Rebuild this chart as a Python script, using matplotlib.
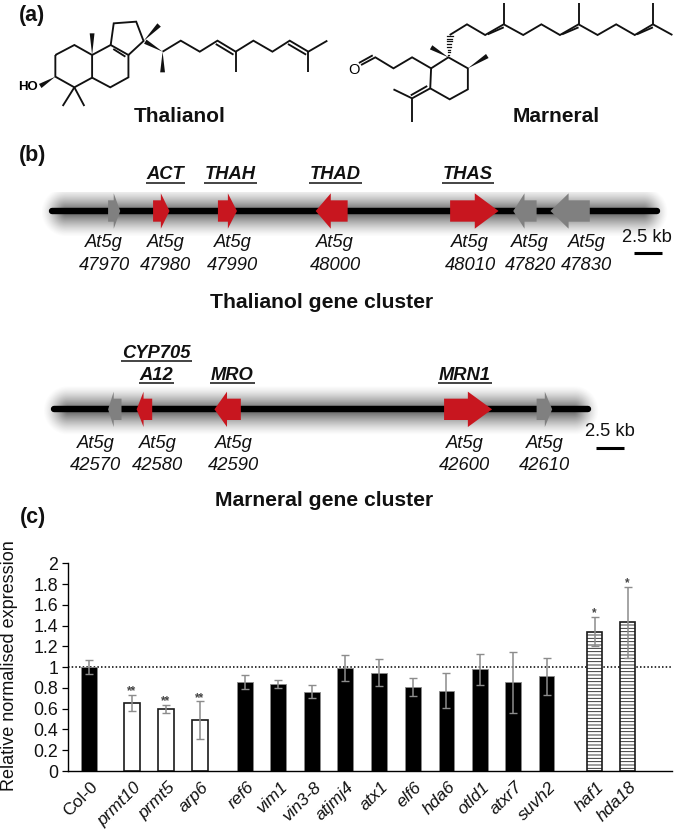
import numpy as np
import matplotlib
matplotlib.use("Agg")
import matplotlib.pyplot as plt
from matplotlib.patches import Polygon

plt.rcParams['font.family'] = ['Liberation Sans', 'DejaVu Sans']
plt.rcParams['hatch.linewidth'] = 0.6

# ---- bar chart data
genotypes = ['Col-0', 'prmt10', 'prmt5', 'arp6', 'ref6', 'vim1', 'vin3-8', 'atjmj4', 'atx1',
             'elf6', 'hda6', 'otld1', 'atxr7', 'suvh2', 'haf1', 'hda18']
slots = [0, 1.28, 2.29, 3.30, 4.64, 5.62, 6.64, 7.62, 8.63, 9.64, 10.63, 11.64, 12.62, 13.62, 15.05, 16.03]
expression = [1.0, 0.655, 0.60, 0.49, 0.855, 0.84, 0.765, 0.995, 0.945, 0.81, 0.775, 0.98, 0.855, 0.91, 1.34, 1.43]
errors = [0.07, 0.08, 0.04, 0.18, 0.065, 0.04, 0.06, 0.125, 0.13, 0.09, 0.165, 0.15, 0.295, 0.18, 0.14, 0.34]
groups = ['wt', 'down', 'down', 'down', 'ns', 'ns', 'ns', 'ns', 'ns', 'ns', 'ns', 'ns', 'ns', 'ns', 'up', 'up']
stars = ['', '**', '**', '**', '', '', '', '', '', '', '', '', '', '', '*', '*']
y_ticks = [0, 0.2, 0.4, 0.6, 0.8, 1, 1.2, 1.4, 1.6, 1.8, 2]
y_ticklabels = ['0', '0.2', '0.4', '0.6', '0.8', '1', '1.2', '1.4', '1.6', '1.8', '2']

# ---- gene cluster data: (tail, neck, tip, colour) in zoomed-picture units
RED, GREY = '#c8161f', '#808080'
thal_genes = [(250, 263, 278, GREY), (354, 372, 392, RED), (504, 527, 548, RED), (804, 765, 730, RED),
              (1041, 1098, 1153, RED), (1241, 1213, 1187, GREY), (1364, 1315, 1273, GREY)]
thal_ids = [(241, '47970'), (383, '47980'), (538, '47990'), (775, '48000'), (1087, '48010'), (1226, '47820'), (1357, '47830')]
thal_names = [(383, 'ACT'), (532, 'THAH'), (775, 'THAD'), (1082, 'THAS')]
marn_genes = [(281, 263, 250, GREY), (352, 332, 316, RED), (557, 525, 496, RED),
              (1027, 1082, 1138, RED), (1241, 1260, 1277, GREY)]
marn_ids = [(222, '42570'), (364, '42580'), (540, '42590'), (1074, '42600'), (1259, '42610')]
marn_names = [(362, 70, 92, 'CYP705'), (362, 138, 158, 'A12'), (537, 138, 158, 'MRO'), (1075, 138, 158, 'MRN1')]

# ---- molecule skeletons (zoomed-picture units)
thal_bonds = [
    [(128, 165), (172, 135), (213, 165), (213, 233), (172, 262), (128, 230), (128, 165)],
    [(213, 165), (256, 135), (297, 165), (297, 232), (255, 262), (213, 233)],
    [(256, 135), (263, 70), (315, 65), (332, 123), (297, 165)],
    [(262, 147), (290, 170)],
    [(172, 262), (145, 318)], [(172, 262), (195, 318)],
    [(376, 155), (418, 122), (462, 155), (503, 122), (545, 155), (586, 122), (630, 155), (670, 122), (713, 155), (757, 122)],
    [(545, 155), (545, 217)], [(713, 155), (713, 217)],
    [(499, 132), (540, 164)], [(666, 132), (708, 164)],
]
thal_wedges = [((213, 165), (213, 100)), ((332, 123), (368, 75)), ((376, 155), (336, 125)),
               ((376, 155), (376, 217)), ((128, 230), (93, 258))]
marn_bonds = [
    [(997, 205), (1037, 172), (1082, 205), (1082, 268), (1040, 298), (995, 265), (997, 205)],
    [(995, 265), (953, 295), (910, 268)], [(953, 295), (953, 365)],
    [(988, 258), (950, 286)],
    [(997, 205), (953, 172), (910, 205), (868, 172), (835, 195)],
    [(862, 166), (830, 189)],
    [(1040, 105), (1080, 73), (1122, 105), (1165, 73), (1210, 105), (1252, 73), (1295, 105), (1338, 73),
     (1382, 105), (1425, 73), (1468, 105), (1510, 73), (1555, 105)],
    [(1165, 73), (1165, 10)], [(1338, 73), (1338, 10)], [(1510, 73), (1510, 10)],
    [(1128, 103), (1165, 82)], [(1300, 103), (1338, 82)], [(1473, 103), (1510, 82)],
]
marn_wedges = [((1082, 205), (1127, 168)), ((1037, 172), (997, 142))]
marn_hash = ((1037, 172), (1040, 108))

fig = plt.figure(figsize=(6.78, 8.31), dpi=100, facecolor='white')
W, H = 678, 831

# full-figure canvas in pixel units
cv = fig.add_axes([0, 0, 1, 1])
cv.set_xlim(0, W); cv.set_ylim(H, 0); cv.axis('off')

SX = 678 / 1568
def zx(x): return x * SX
def zy(y, off=0): return y / 3 + off

def bold_txt(x, y, s, size=15):
    cv.text(x, y, s, fontsize=size, fontweight='bold', ha='center', va='center', color='#111111')

# panel letters
bold_txt(32, 15, '(a)', 15.5); bold_txt(33, 155, '(b)', 15.5); bold_txt(33, 518, '(c)', 15.5)

# molecules
for bonds, wedges in ((thal_bonds, thal_wedges), (marn_bonds, marn_wedges)):
    for b in bonds:
        cv.plot([zx(p[0]) for p in b], [zy(p[1]) for p in b], color='#111111', lw=1.35,
                solid_joinstyle='miter', solid_capstyle='butt')
    for a, c in wedges:
        ax_, ay_, cx_, cy_ = zx(a[0]), zy(a[1]), zx(c[0]), zy(c[1])
        dx, dy = cx_ - ax_, cy_ - ay_
        L = np.hypot(dx, dy)
        nx, ny = -dy / L * 2.4, dx / L * 2.4
        cv.add_patch(Polygon([(ax_, ay_), (cx_ + nx, cy_ + ny), (cx_ - nx, cy_ - ny)], color='#111111', lw=0))
for t in np.linspace(0.1, 1, 8):
    a, c = marn_hash
    px = zx(a[0] + (c[0] - a[0]) * t); py = zy(a[1] + (c[1] - a[1]) * t)
    cv.plot([px - 2.6 * t - .4, px + 2.6 * t + .4], [py, py], color='#111111', lw=0.9)
cv.text(zx(65), zy(262), 'HO', fontsize=9.5, fontweight='bold', ha='center', va='center')
cv.text(zx(818), zy(210), 'O', fontsize=10.5, ha='center', va='center')
bold_txt(180, 117, 'Thalianol', 15)
bold_txt(556, 117, 'Marneral', 15)

# gene tracks
def shadow(x0, x1, x_a, x_b, yc, top, bot):
    xs = np.arange(x0, x1) + .5
    ys = np.arange(top, bot) + .5
    X, Y = np.meshgrid(xs, ys)
    dx = np.maximum(np.maximum(x_a - X, X - x_b), 0)
    d = np.hypot(dx, Y - yc)
    a = np.clip(1 - d / 25, 0, 1) ** 1.4 * 0.85
    img = np.zeros(X.shape + (4,))
    img[..., :3] = 0.25
    img[..., 3] = a
    cv.imshow(img, extent=(x0, x1, bot, top), aspect='auto', interpolation='bilinear', zorder=1)
    cv.set_xlim(0, W); cv.set_ylim(H, 0)

def track(genes, ids, x_start, x_end, yl, off, shade, idy, bar):
    shadow(shade[0], shade[1], zx(x_start) + 14, zx(x_end) - 14, zy(yl, off) + 1, shade[2], shade[3])
    cv.plot([zx(x_start), zx(x_end)], [zy(yl, off)] * 2, color='black', lw=4.6, solid_capstyle='round', zorder=2)
    for tail, neck, tip, col in genes:
        yc = zy(yl, off)
        body, head = 32 / 3, 53 / 3
        pts = [(tail, yc - body), (neck, yc - body), (neck, yc - head), (tip, yc), (neck, yc + head),
               (neck, yc + body), (tail, yc + body)]
        cv.add_patch(Polygon([(zx(p), q) for p, q in pts], facecolor=col, edgecolor='none', zorder=3))
    for x, num in ids:
        cv.text(zx(x), zy(idy[0], off), 'At5g', fontsize=13.2, style='italic', ha='center', va='center', color='#111111')
        cv.text(zx(x), zy(idy[1], off), num, fontsize=13.2, style='italic', ha='center', va='center', color='#111111')
    cv.text(zx(bar[0]), zy(bar[1], off), '2.5 kb', fontsize=13.2, ha='center', va='center', color='#111111')
    cv.plot([zx(bar[2]), zx(bar[3])], [zy(bar[4], off)] * 2, color='black', lw=2.2, solid_capstyle='butt')

track(thal_genes, thal_ids, 120, 1520, 213, 140, (42, 674, 192, 236), (308, 375), (1497, 293, 1467, 1530, 338))
track(marn_genes, marn_ids, 125, 1360, 238, 330, (42, 600, 386, 438), (340, 405), (1411, 305, 1378, 1442, 353))

renderer = fig.canvas.get_renderer()
def name(x, y, uy, off, s):
    t = cv.text(zx(x), zy(y, off), s, fontsize=13.2, fontweight='bold', style='italic', ha='center', va='center', color='#111111')
    bb = t.get_window_extent(renderer)
    cv.plot([bb.x0 - 1, bb.x1 + 1], [zy(uy, off)] * 2, color='#111111', lw=1.1, solid_capstyle='butt')

for x, s in thal_names:
    name(x, 103, 128, 140, s)
for x, y, uy, s in marn_names:
    name(x, y, uy, 330, s)
bold_txt(322, 302, 'Thalianol gene cluster', 15.2)
bold_txt(324, 501, 'Marneral gene cluster', 15.2)

# bar chart
ax = fig.add_axes([68 / W, (H - 771) / H, (672 - 68) / W, (771 - 563.3) / H], facecolor='none')
ax.set_xlim(-0.625, 17.35)
ax.set_ylim(0, 2)
ax.axhline(1, color='black', lw=1.1, ls=(0, (1, 1.4)), zorder=1)
for x, v, e, g, st in zip(slots, expression, errors, groups, stars):
    if g in ('wt', 'ns'):
        ax.bar(x, v, 0.456, facecolor='black', edgecolor='#8a8a8a', lw=0.6, zorder=2)
    elif g == 'down':
        ax.bar(x, v, 0.456, facecolor='white', edgecolor='#1a1a1a', lw=1.2, zorder=2)
    else:
        ax.bar(x, v, 0.456, facecolor='white', edgecolor='#1a1a1a', lw=1.2, hatch='-----', zorder=2)
    ax.errorbar(x, v, yerr=e, ecolor='#8c8c8c', elinewidth=1.1, capsize=2.7, capthick=1.0, zorder=3, fmt='none')
    if st:
        ax.annotate(st, (x, v + e), xytext=(0, 0.5), textcoords='offset points', ha='center', va='baseline',
                    fontsize=8.6, fontweight='bold', color='#444444')
for s in ('top', 'right'):
    ax.spines[s].set_visible(False)
for s in ('left', 'bottom'):
    ax.spines[s].set_linewidth(1.0)
ax.set_yticks(y_ticks)
ax.set_yticklabels(y_ticklabels, fontsize=12.8, color='#111111')
ax.tick_params(axis='y', length=4.4, width=0.9, pad=2.5)
ax.set_xticks([])
for x, lab in zip(slots, genotypes):
    ax.annotate(lab, (x, 0), xytext=(1, -6), textcoords='offset points', rotation=45, rotation_mode='anchor',
                ha='right', va='top', fontsize=12.6, style='normal' if lab == 'Col-0' else 'italic', color='#111111')
cv.text(10, 666, 'Relative normalised expression', rotation=90, fontsize=13, ha='center', va='center', color='#111111')

fig.savefig('out.png', dpi=100)
